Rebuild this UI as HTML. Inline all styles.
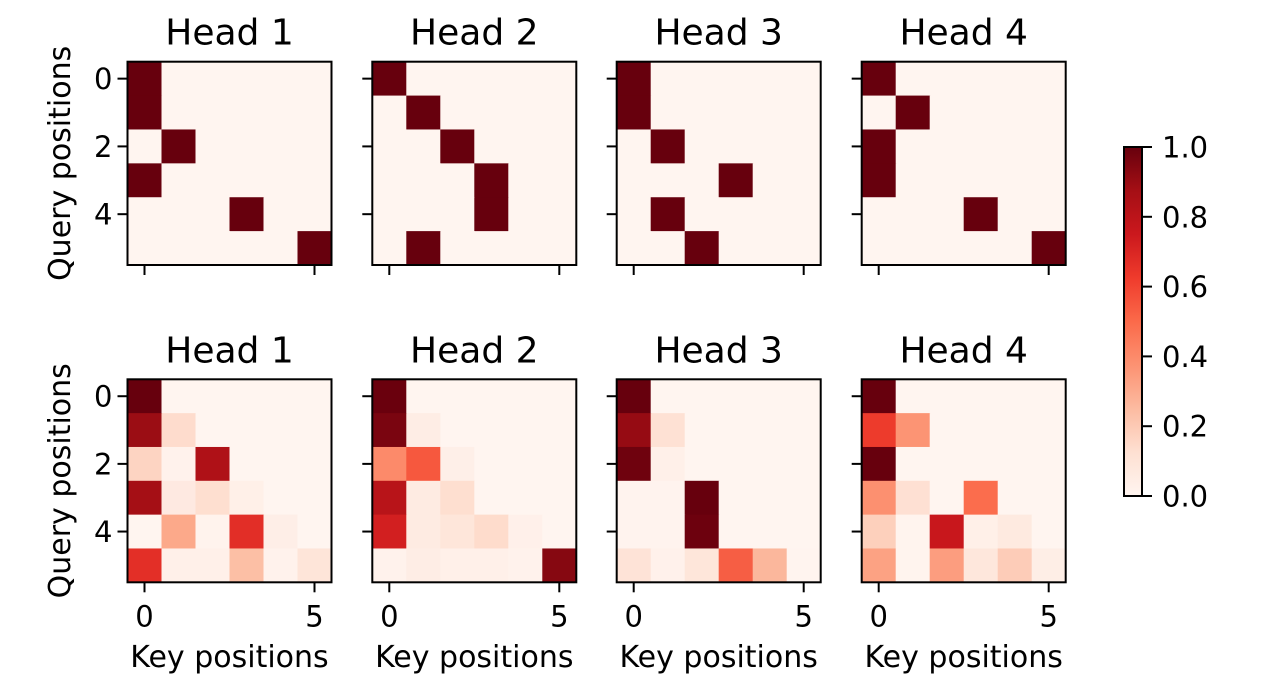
<!DOCTYPE html>
<html><head><meta charset="utf-8"><style>body{margin:0;background:#fff}svg{display:block}text{font-family:"DejaVu Sans","Liberation Sans",sans-serif;fill:#000}</style></head>
<body>
<svg id="s" width="1280" height="691" xmlns="http://www.w3.org/2000/svg">
<defs><linearGradient id="g" x1="0" y1="1" x2="0" y2="0">
<stop offset="0" stop-color="#fff5f0"/><stop offset="0.125" stop-color="#fee0d2"/><stop offset="0.25" stop-color="#fcbba1"/><stop offset="0.375" stop-color="#fc9272"/><stop offset="0.5" stop-color="#fb6a4a"/><stop offset="0.625" stop-color="#ef3b2c"/><stop offset="0.75" stop-color="#cb181d"/><stop offset="0.875" stop-color="#a50f15"/><stop offset="1" stop-color="#67000d"/></linearGradient></defs>
</svg>
<script>
(function(){
var B='#fff5f0',D='#67000d';
function mk(p){var m=[];for(var r=0;r<6;r++){var row=[];for(var c=0;c<6;c++)row.push(p[r]===c?D:B);m.push(row);}return m;}
var T=[mk([0,0,1,0,3,5]),mk([0,1,2,3,3,1]),mk([0,0,1,3,1,2]),mk([0,1,0,0,3,5])];
var Bt=[
[[D,B,B,B,B,B],['#9b0d14','#fedccd',B,B,B,B],['#fdd4c2','#fff2ec','#af1117',B,B,B],['#a50f15','#fee9e1','#fedfd0','#fff0e8',B,B],[B,'#fca98a','#fff3ed','#e22e27','#feeee7',B],['#e32f27','#fff0e9','#fff0e9','#fcbfa5','#fff2ec','#fee5d9']],
[['#6a000d',B,B,B,B,B],['#7a0510','#feede5',B,B,B,B],['#fc8a6a','#f6583e','#feefe8',B,B,B],['#b81419','#feebe2','#fedfd0',B,B,B],['#d21f20','#feebe2','#fee6da','#fedccc','#fff0ea',B],['#fff2ec','#feede5','#fff0e9','#fff0e9','#fff2ec','#860811']],
[[D,B,B,B,B,B],['#960b13','#fee1d4',B,B,B,B],['#6f020e','#fff0e9',B,B,B,B],['#fff3ee','#fff3ee',D,B,B,B],['#fff3ee','#fff3ee','#6d010e',B,B,B],['#fee3d7','#fff1eb','#fee6da','#f65e44','#fbb79c','#fff4ef']],
[[D,B,B,B,B,B],['#ed3b2c','#fc9474',B,B,B,B],[D,B,B,B,B,B],['#fc9070','#fee0d3',B,'#fb6d4d',B,B],['#fdd0bc','#fff4ee','#c8171c','#fff0e8','#feeae0',B],['#fca283','#fff4ee','#fc9d7f','#fee7dc','#fdccb8','#feeee6']]];
var X=[127.5,372.3,616.7,861.7],W=204,Y=[61.7,379.3],H=[203.3,203];
var s='';
for(var row=0;row<2;row++)for(var k=0;k<4;k++){
 var x0=X[k],y0=Y[row],h=H[row],cw=W/6,ch=h/6,m=row?Bt[k]:T[k];
 for(var r=0;r<6;r++)for(var c=0;c<6;c++)s+='<rect x="'+(x0+c*cw)+'" y="'+(y0+r*ch)+'" width="'+(cw+0.6)+'" height="'+(ch+0.6)+'" fill="'+m[r][c]+'"/>';
 s+='<rect x="'+x0+'" y="'+y0+'" width="'+W+'" height="'+h+'" fill="none" stroke="#000" stroke-width="2"/>';
 s+='<text x="'+(x0+W/2)+'" y="'+(y0-17)+'" font-size="36" text-anchor="middle">Head '+(k+1)+'</text>';
 [0,2,4].forEach(function(rr){var ty=y0+(rr+0.5)*ch;s+='<line x1="'+(x0-10)+'" x2="'+x0+'" y1="'+ty+'" y2="'+ty+'" stroke="#000" stroke-width="2"/>';
  if(k==0)s+='<text x="'+(x0-15)+'" y="'+(ty+10.5)+'" font-size="29" text-anchor="end">'+rr+'</text>';});
 [0,5].forEach(function(cc){var tx=x0+(cc+0.5)*cw;s+='<line x1="'+tx+'" x2="'+tx+'" y1="'+(y0+h)+'" y2="'+(y0+h+10)+'" stroke="#000" stroke-width="2"/>';
  if(row==1)s+='<text x="'+tx+'" y="'+(y0+h+44)+'" font-size="29" text-anchor="middle">'+cc+'</text>';});
 if(row==1)s+='<text x="'+(x0+W/2)+'" y="667" font-size="30" text-anchor="middle">Key positions</text>';
 if(k==0)s+='<text transform="translate(70,'+(y0+h/2)+') rotate(-90)" font-size="30" text-anchor="middle">Query positions</text>';
}
s+='<rect x="1124" y="147" width="18" height="349" fill="url(#g)" stroke="#000" stroke-width="2"/>';
for(var i=0;i<=5;i++){var ty=496-i*349/5;s+='<line x1="1142" x2="1152" y1="'+ty+'" y2="'+ty+'" stroke="#000" stroke-width="2"/><text x="1162" y="'+(ty+10.5)+'" font-size="29">'+(i/5).toFixed(1)+'</text>';}
document.getElementById('s').insertAdjacentHTML('beforeend',s);
})();
</script>
</body></html>
